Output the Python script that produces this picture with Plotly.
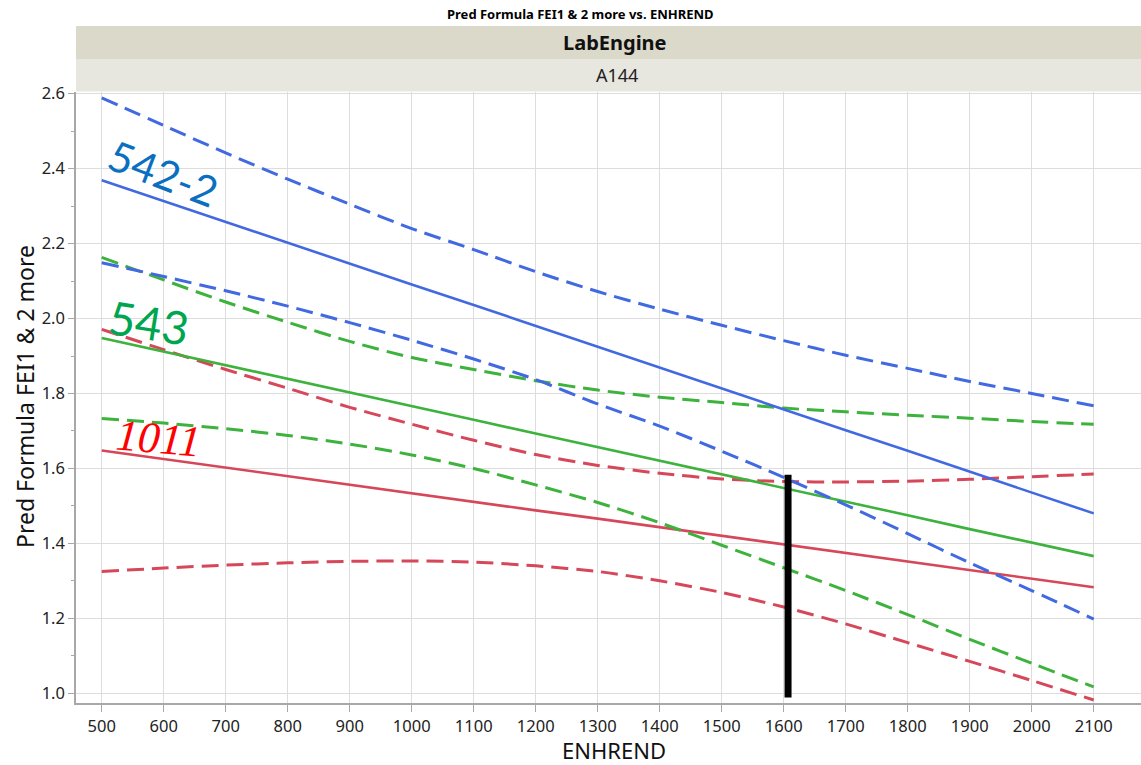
import plotly.graph_objects as go

# ---------------- data ----------------
enhrend = [500, 600, 700, 800, 900, 1000, 1100, 1200, 1300, 1400,
           1500, 1600, 1700, 1800, 1900, 2000, 2100]

blue_fit = [2.369, 2.313, 2.258, 2.202, 2.147, 2.091, 2.036, 1.980, 1.925,
            1.869, 1.814, 1.758, 1.702, 1.647, 1.591, 1.536, 1.480]
blue_upper = [2.589, 2.515, 2.442, 2.372, 2.305, 2.240, 2.184, 2.125, 2.072,
              2.025, 1.982, 1.941, 1.902, 1.867, 1.832, 1.800, 1.767]
blue_lower = [2.149, 2.112, 2.074, 2.033, 1.989, 1.942, 1.892, 1.837, 1.772,
              1.713, 1.646, 1.576, 1.503, 1.426, 1.348, 1.274, 1.198]

green_fit = [1.948, 1.912, 1.875, 1.839, 1.802, 1.766, 1.730, 1.693, 1.657,
             1.620, 1.584, 1.548, 1.511, 1.475, 1.438, 1.402, 1.366]
green_upper = [2.163, 2.103, 2.044, 1.990, 1.939, 1.896, 1.864, 1.834, 1.809,
               1.790, 1.776, 1.761, 1.751, 1.742, 1.734, 1.725, 1.718]
green_lower = [1.733, 1.721, 1.706, 1.688, 1.665, 1.636, 1.600, 1.556, 1.509,
               1.455, 1.395, 1.335, 1.274, 1.210, 1.144, 1.080, 1.017]

red_fit = [1.648, 1.625, 1.602, 1.580, 1.557, 1.534, 1.511, 1.488, 1.466,
           1.443, 1.420, 1.397, 1.374, 1.352, 1.329, 1.306, 1.283]
red_upper = [1.971, 1.917, 1.864, 1.814, 1.763, 1.718, 1.675, 1.637, 1.608,
             1.587, 1.572, 1.565, 1.564, 1.566, 1.571, 1.578, 1.585]
red_lower = [1.325, 1.334, 1.342, 1.348, 1.352, 1.353, 1.350, 1.340, 1.325,
             1.300, 1.269, 1.230, 1.185, 1.135, 1.085, 1.034, 0.982]

cutoff_x = [1607, 1607]
cutoff_y = [0.989, 1.583]

x_ticks = [500, 600, 700, 800, 900, 1000, 1100, 1200, 1300, 1400,
           1500, 1600, 1700, 1800, 1900, 2000, 2100]
y_ticks = [1.0, 1.2, 1.4, 1.6, 1.8, 2.0, 2.2, 2.4, 2.6]

series_labels = ["542-2", "543", "1011"]

# ---------------- styles ----------------
BLUE = "#4169E1"
GREEN = "#3DB23D"
RED = "#D6475A"
DASH = "17px,8px"
FONT = "Noto Sans"

fig = go.Figure()

def add(y, color, dashed):
    fig.add_trace(go.Scatter(
        x=enhrend, y=y, mode="lines", hoverinfo="skip", showlegend=False,
        line=dict(color=color, width=3 if dashed else 2.6,
                  dash=DASH if dashed else "solid",
                  shape="spline" if dashed else "linear", smoothing=0.8),
    ))

for up, fit, lo, col in [(red_upper, red_fit, red_lower, RED),
                         (green_upper, green_fit, green_lower, GREEN),
                         (blue_upper, blue_fit, blue_lower, BLUE)]:
    add(up, col, True)
    add(lo, col, True)
    add(fit, col, False)

fig.add_trace(go.Scatter(x=cutoff_x, y=cutoff_y, mode="lines", hoverinfo="skip",
                         showlegend=False, line=dict(color="black", width=7)))

W, H = 1141, 765
L, R, T, B = 76, 0, 92, 62
pw, ph = W - L - R, H - T - B

def px_x(p):
    return (p - L) / pw

def px_y(q):
    return (H - B - q) / ph

shapes = [
    dict(type="rect", xref="paper", yref="paper", x0=0, x1=1,
         y0=px_y(59), y1=px_y(26), fillcolor="#DBD9CA", line=dict(width=0), layer="above"),
    dict(type="rect", xref="paper", yref="paper", x0=0, x1=1,
         y0=px_y(91.5), y1=px_y(59), fillcolor="#E7E7DF", line=dict(width=0), layer="above"),
]

annotations = [
    dict(text="<b>Pred Formula FEI1 &amp; 2 more vs. ENHREND</b>", xref="paper", yref="paper",
         x=px_x(580), y=px_y(14), showarrow=False, xanchor="center", yanchor="middle",
         font=dict(family=FONT, size=13, color="#000000")),
    dict(text="<b>LabEngine</b>", xref="paper", yref="paper",
         x=px_x(615), y=px_y(43), showarrow=False, xanchor="center", yanchor="middle",
         font=dict(family=FONT, size=20, color="#111111")),
    dict(text="A144", xref="paper", yref="paper",
         x=px_x(617), y=px_y(75), showarrow=False, xanchor="center", yanchor="middle",
         font=dict(family=FONT, size=18, color="#222222")),
    dict(text="ENHREND", xref="paper", yref="paper",
         x=px_x(614), y=px_y(750), showarrow=False, xanchor="center", yanchor="middle",
         font=dict(family=FONT, size=22, color="#111111")),
    dict(text="Pred Formula FEI1 &amp; 2 more", xref="paper", yref="paper",
         x=px_x(25), y=px_y(397), showarrow=False, xanchor="center", yanchor="middle",
         textangle=-90, font=dict(family=FONT, size=23, color="#111111")),
    dict(text=series_labels[0], x=599, y=2.388, xref="x", yref="y", showarrow=False,
         textangle=21, font=dict(family="Lato", size=42, color="#0A6FC0")),
    dict(text=series_labels[1], x=577, y=1.990, xref="x", yref="y", showarrow=False,
         textangle=9, font=dict(family="Lato", size=46, color="#00A64F")),
    dict(text="<i>" + series_labels[2] + "</i>", x=592, y=1.679, xref="x", yref="y",
         showarrow=False, textangle=5,
         font=dict(family="Liberation Serif", size=44, color="#FF0000")),
]

fig.update_layout(
    width=W, height=H,
    margin=dict(l=L, r=R, t=T, b=B, pad=0),
    paper_bgcolor="white", plot_bgcolor="white",
    shapes=shapes, annotations=annotations,
    xaxis=dict(range=[458.5, 2176.3], tickvals=x_ticks, ticks="outside", ticklen=7,
               tickcolor="#A8A8A8", showline=True, linecolor="#A8A8A8", linewidth=1.5,
               showgrid=True, gridcolor="#DDDDDD", gridwidth=1.3, zeroline=False,
               tickfont=dict(family=FONT, size=16.5, color="#222222")),
    yaxis=dict(range=[0.974, 2.6045], tickvals=y_ticks, ticktext=[f"{v:.1f}" for v in y_ticks],
               ticks="outside", ticklen=6,
               tickcolor="#A8A8A8", showline=True, linecolor="#A8A8A8", linewidth=1.5,
               showgrid=True, gridcolor="#DDDDDD", gridwidth=1.3, zeroline=False,
               minor=dict(dtick=0.1, tick0=1.0, ticks="outside", ticklen=3,
                          tickcolor="#A8A8A8", showgrid=False),
               tickfont=dict(family=FONT, size=16.5, color="#222222")),
)

fig.write_html("out.html")
